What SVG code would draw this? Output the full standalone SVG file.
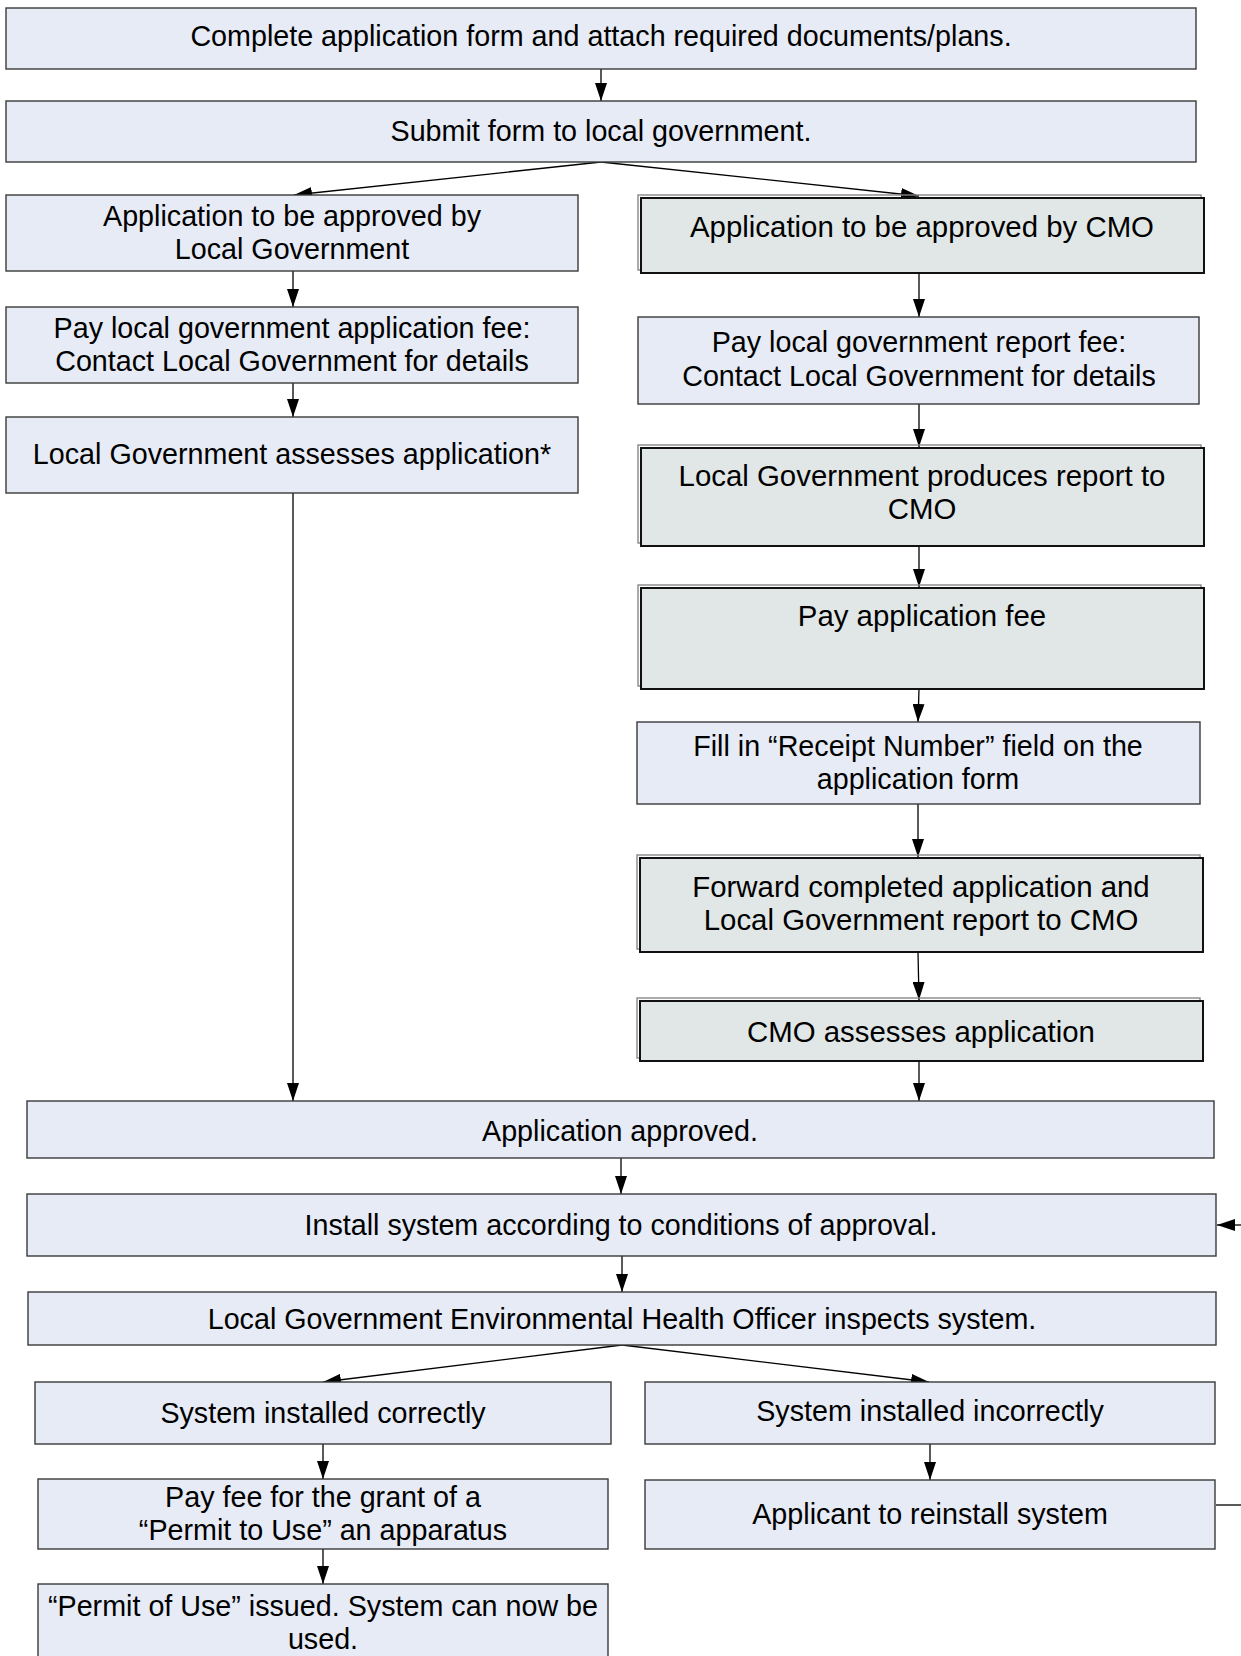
<svg xmlns="http://www.w3.org/2000/svg" width="1241" height="1656" viewBox="0 0 1241 1656">
<defs>
<marker id="ah" markerUnits="userSpaceOnUse" markerWidth="18" markerHeight="12" refX="18" refY="6" orient="auto">
<path d="M0,0 L18,6 L0,12 z" fill="#000"/>
</marker>
<style>
.b{fill:#E6EBF5;stroke:#3a3a3a;stroke-width:1.4}
.g{fill:#E0E7E6;stroke:#111;stroke-width:2}
.gs{fill:none;stroke:#888;stroke-width:1.4}
text{font-family:"Liberation Sans",Arial,sans-serif;font-size:28.7px;fill:#000;text-anchor:middle}
.gt{font-size:29.4px}
.c{fill:none;stroke:#000;stroke-width:1.3;marker-end:url(#ah)}
.l{fill:none;stroke:#000;stroke-width:1.3}
</style>
</defs>
<rect width="1241" height="1656" fill="#fff"/>
<g id="connectors">
<line class="c" x1="601" y1="69" x2="601" y2="101"/>
<line class="c" x1="601" y1="162" x2="294" y2="195"/>
<line class="c" x1="601" y1="162" x2="919" y2="196"/>
<line class="c" x1="293" y1="271" x2="293" y2="307"/>
<line class="c" x1="293" y1="383" x2="293" y2="417"/>
<line class="c" x1="293" y1="493" x2="293" y2="1101"/>
<line class="c" x1="919" y1="273" x2="919" y2="317"/>
<line class="c" x1="919" y1="404" x2="919" y2="447"/>
<line class="c" x1="919" y1="546" x2="919" y2="587"/>
<line class="c" x1="919" y1="689" x2="918" y2="722"/>
<line class="c" x1="918" y1="804" x2="918" y2="857"/>
<line class="c" x1="918" y1="952" x2="919" y2="1000"/>
<line class="c" x1="919" y1="1061" x2="919" y2="1101"/>
<line class="c" x1="621" y1="1158" x2="621" y2="1194"/>
<line class="c" x1="622" y1="1256" x2="622" y2="1292"/>
<line class="c" x1="622" y1="1345" x2="323" y2="1382"/>
<line class="c" x1="622" y1="1345" x2="929" y2="1382"/>
<line class="c" x1="323" y1="1444" x2="323" y2="1479"/>
<line class="c" x1="930" y1="1444" x2="930" y2="1480"/>
<line class="c" x1="323" y1="1549" x2="323" y2="1584"/>
<line class="l" x1="1216" y1="1505" x2="1241" y2="1505"/>
<line class="c" x1="1241" y1="1225" x2="1217" y2="1225"/>
</g>
<g id="n1"><rect class="b" x="6" y="8" width="1190" height="61"/><text x="601" y="46">Complete application form and attach required documents/plans.</text></g>
<g id="n2"><rect class="b" x="6" y="101" width="1190" height="61"/><text x="601" y="141">Submit form to local government.</text></g>
<g id="n3"><rect class="b" x="6" y="195" width="572" height="76"/><text x="292" y="226">Application to be approved by</text><text x="292" y="259">Local Government</text></g>
<g id="n4"><rect class="gs" x="638" y="195" width="563" height="75"/><rect class="g" x="641" y="198" width="563" height="75"/><text class="gt" x="922" y="237">Application to be approved by CMO</text></g>
<g id="n5"><rect class="b" x="6" y="307" width="572" height="76"/><text x="292" y="338">Pay local government application fee:</text><text x="292" y="371">Contact Local Government for details</text></g>
<g id="n6"><rect class="b" x="638" y="317" width="561" height="87"/><text x="919" y="352">Pay local government report fee:</text><text x="919" y="386">Contact Local Government for details</text></g>
<g id="n7"><rect class="b" x="6" y="417" width="572" height="76"/><text x="292" y="464">Local Government assesses application*</text></g>
<g id="n8"><rect class="gs" x="638" y="445" width="563" height="98"/><rect class="g" x="641" y="448" width="563" height="98"/><text class="gt" x="922" y="486">Local Government produces report to</text><text class="gt" x="922" y="519">CMO</text></g>
<g id="n9"><rect class="gs" x="638" y="585" width="563" height="101"/><rect class="g" x="641" y="588" width="563" height="101"/><text class="gt" x="922" y="626">Pay application fee</text></g>
<g id="n10"><rect class="b" x="637" y="722" width="563" height="82"/><text x="918" y="756">Fill in “Receipt Number” field on the</text><text x="918" y="789">application form</text></g>
<g id="n11"><rect class="gs" x="637" y="855" width="563" height="94"/><rect class="g" x="640" y="858" width="563" height="94"/><text class="gt" x="921" y="897">Forward completed application and</text><text class="gt" x="921" y="930">Local Government report to CMO</text></g>
<g id="n12"><rect class="gs" x="637" y="998" width="563" height="60"/><rect class="g" x="640" y="1001" width="563" height="60"/><text class="gt" x="921" y="1042">CMO assesses application</text></g>
<g id="n13"><rect class="b" x="27" y="1101" width="1187" height="57"/><text x="620" y="1141">Application approved.</text></g>
<g id="n14"><rect class="b" x="27" y="1194" width="1189" height="62"/><text x="621" y="1235">Install system according to conditions of approval.</text></g>
<g id="n15"><rect class="b" x="28" y="1292" width="1188" height="53"/><text x="622" y="1329">Local Government Environmental Health Officer inspects system.</text></g>
<g id="n16"><rect class="b" x="35" y="1382" width="576" height="62"/><text x="323" y="1423">System installed correctly</text></g>
<g id="n17"><rect class="b" x="645" y="1382" width="570" height="62"/><text x="930" y="1421">System installed incorrectly</text></g>
<g id="n18"><rect class="b" x="38" y="1479" width="570" height="70"/><text x="323" y="1507">Pay fee for the grant of a</text><text x="323" y="1540">“Permit to Use” an apparatus</text></g>
<g id="n19"><rect class="b" x="645" y="1480" width="570" height="69"/><text x="930" y="1524">Applicant to reinstall system</text></g>
<g id="n20"><rect class="b" x="38" y="1584" width="570" height="80"/><text x="323" y="1616">“Permit of Use” issued. System can now be</text><text x="323" y="1649">used.</text></g>
</svg>
